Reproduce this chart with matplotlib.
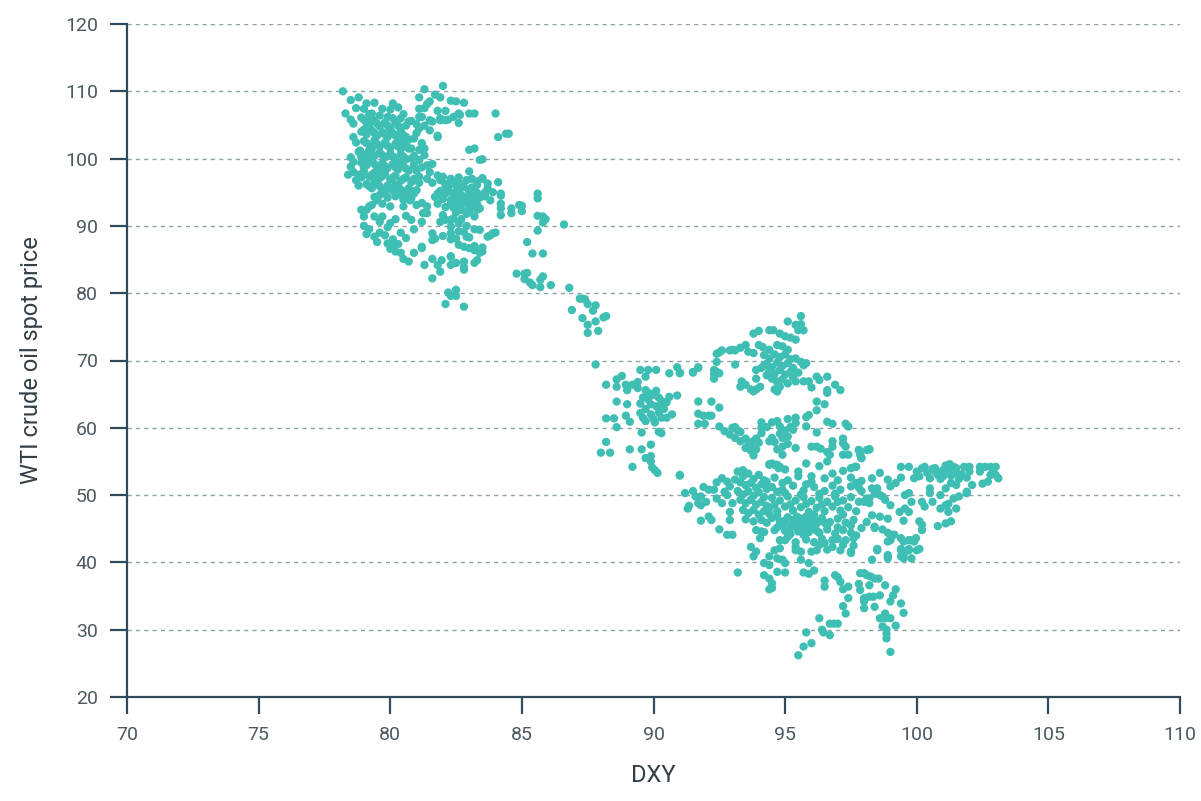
import matplotlib
matplotlib.use("Agg")
import matplotlib.pyplot as plt
import numpy as np

# ---- data (DXY, WTI), grouped by cluster ----
core_2011 = [
(79.0,105.8),(79.2,105.0),(79.4,105.6),(79.6,104.8),(79.8,105.4),(80.0,104.6),(80.2,105.3),(80.4,104.4),(80.6,104.9),
(78.9,104.0),(79.1,103.6),(79.3,104.2),(79.5,103.4),(79.7,103.9),(79.9,103.2),(80.1,103.8),(80.3,103.0),(80.5,103.5),(80.7,102.8),
(79.0,102.6),(79.2,102.0),(79.4,102.7),(79.6,101.8),(79.8,102.4),(80.0,101.6),(80.2,102.2),(80.4,101.4),(80.6,101.9),
(78.8,101.0),(79.0,100.6),(79.2,101.2),(79.4,100.4),(79.6,100.9),(79.8,100.2),(80.0,100.8),(80.2,100.0),(80.4,100.6),(80.6,99.9),
(78.9,99.4),(79.1,99.0),(79.3,99.6),(79.5,98.8),(79.7,99.3),(79.9,98.6),(80.1,99.2),(80.3,98.4),(80.5,98.9),(80.7,98.2),
(78.6,98.0),(78.8,97.6),(79.0,98.1),(79.2,97.3),(79.4,97.9),(79.6,97.1),(79.8,97.7),(80.0,96.9),(80.2,97.5),(80.4,96.7),(80.6,97.2),(80.8,96.5),
(79.1,96.2),(79.3,95.6),(79.5,96.3),(79.7,95.4),(79.9,96.0),(80.1,95.2),(80.3,95.8),(80.5,95.0),(80.7,95.6),(80.9,94.8),
(79.6,94.6),(79.9,94.2),(80.2,94.4),(80.5,93.9),(80.8,94.1),(81.0,95.3),(81.1,96.4),
]
core_2011_extra = [
(79.1,105.3),(79.5,105.2),(79.9,104.9),(80.3,104.9),(80.7,105.5),(79.3,106.0),(80.1,106.0),
(79.0,104.3),(79.4,103.8),(79.8,103.6),(80.2,103.4),(80.6,103.2),(80.0,104.2),(80.4,103.9),
(79.1,102.3),(79.5,102.2),(79.9,101.9),(80.3,101.8),(80.7,101.5),(79.3,101.5),(80.5,102.4),
(78.9,100.2),(79.3,100.8),(79.7,100.5),(80.1,100.3),(80.5,100.3),(80.8,100.0),(79.1,100.0),
(79.0,98.7),(79.4,99.2),(79.8,98.9),(80.2,98.7),(80.6,98.5),(79.6,98.4),(80.4,99.4),
(78.9,97.2),(79.3,97.6),(79.7,97.4),(80.1,97.2),(80.5,97.0),(80.9,97.0),(79.5,97.5),
(79.2,95.9),(79.6,95.9),(80.0,95.6),(80.4,95.4),(80.8,95.2),(79.4,96.6),(80.2,96.1),
(79.8,94.8),(80.3,94.7),(80.7,94.5),
]
fringe_2011 = [
(78.2,110.0),(78.3,106.7),(78.5,108.7),(78.8,109.1),(78.7,107.5),(79.0,107.4),(79.1,108.2),(79.4,108.3),(79.3,106.7),
(79.7,107.4),(79.6,106.4),(80.1,108.2),(80.0,107.3),(80.3,107.6),(80.5,106.6),(80.4,106.0),(80.8,105.6),(78.6,105.2),
(78.5,105.8),(78.9,106.1),(79.2,106.6),(79.9,106.2),
(78.5,100.2),(78.5,98.8),(78.6,99.5),(78.85,101.2),(78.6,103.2),(78.7,102.4),(78.4,97.6),(78.7,96.8),(78.8,96.0),
]
upper_right_2011 = [
(81.3,110.3),(82.0,110.8),(81.1,109.1),(81.4,108.1),(81.7,109.5),(81.9,109.1),(82.3,108.6),(82.5,108.5),(82.8,108.3),
(81.5,108.5),(81.1,107.4),(81.8,107.1),(82.1,107.1),(81.1,106.2),(81.5,105.7),(81.9,105.7),(82.1,105.7),(82.4,106.2),
(82.6,106.7),(83.0,106.7),(82.6,105.3),(82.65,106.5),(81.3,107.5),(81.6,105.5),(81.2,106.2),(81.9,106.0),(82.2,105.8),
(83.2,106.7),(81.8,103.2),(81.8,103.4),(81.1,104.5),(81.0,103.8),(80.9,103.0),(81.1,101.3),(81.3,101.5),(81.2,102.3),
(81.5,104.2),(81.3,104.9),(81.0,105.1),
(84.0,106.7),(84.1,103.2),(84.4,103.7),(84.5,103.7),(83.2,101.5),(83.5,99.9),(83.0,101.3),
]
middle_2011 = [
(80.9,100.4),(81.1,99.8),(81.3,100.5),(80.9,99.0),(81.2,98.7),(81.5,98.0),(81.8,97.5),(81.1,97.3),(81.4,97.0),
(81.6,96.4),(81.9,96.8),(82.1,96.2),(82.4,96.6),(81.0,98.2),(80.8,101.5),(81.6,99.2),(81.4,99.0),
]
lower_right_2012 = [
(82.0,97.3),(82.3,97.0),(82.6,97.2),(82.9,96.8),(83.1,97.0),(82.2,95.9),(82.5,96.0),(82.8,95.8),(83.1,95.7),(83.3,96.1),
(81.9,95.2),(82.1,94.8),(82.4,94.9),(82.7,94.6),(83.0,94.6),(83.3,94.9),(81.7,94.3),(82.0,94.0),(82.3,93.8),(82.6,93.6),
(82.9,93.5),(83.2,93.7),(83.4,94.2),(81.8,93.3),(82.1,92.8),(82.4,92.7),(82.7,92.4),(83.0,92.6),(83.3,92.4),(81.4,92.9),
(81.0,93.1),(80.75,93.8),(81.25,91.9),(81.9,90.6),(82.3,90.9),(82.5,92.4),(83.0,92.1),(83.2,91.4),(82.7,91.0),(82.3,89.9),
(82.6,89.2),(82.0,88.5),(82.3,88.0),(82.6,87.2),(82.8,86.9),(83.0,88.3),(83.2,87.0),(83.4,86.0),(83.5,86.8),(83.8,88.6),
(84.0,89.0),(83.2,89.5),(82.9,90.0),(81.6,88.9),(81.6,87.9),
(82.1,96.1),(82.4,96.3),(83.0,98.1),(83.4,99.8),(83.5,97.1),(83.7,96.3),(83.6,94.4),(82.5,93.9),(81.2,93.4),(81.4,91.9),
(82.0,91.6),(82.1,90.9),(82.4,91.1),(82.6,90.4),(82.8,89.1),(82.5,88.1),(82.9,88.4),(81.7,88.1),(82.3,88.9),(83.4,89.4),
(83.7,88.4),(83.9,88.9),(83.0,86.7),(83.2,86.4),(83.5,86.2),(83.3,84.9),(82.3,85.4),(81.95,84.9),(82.8,83.9),(81.2,86.9),
(82.2,95.4),(82.6,95.2),(83.0,95.2),(82.4,94.3),(82.8,94.1),(83.1,94.2),(82.3,93.3),(82.7,93.1),(83.1,93.0),(82.5,92.0),
(82.9,91.8),(83.3,96.6),(82.6,96.5),(81.8,94.8),(83.3,93.2),
]
east_2012 = [
(83.5,97.0),(84.1,96.5),(83.7,95.6),(84.2,94.5),(83.6,95.0),(84.2,93.3),(83.4,92.6),(84.2,91.6),(84.2,94.8),(84.2,92.6),
(84.6,92.6),(84.6,91.9),(85.0,93.0),(84.9,93.1),(85.0,92.2),(85.6,94.8),(85.6,94.1),(85.6,91.5),(85.8,91.4),(85.9,91.0),
(85.8,90.5),(85.6,89.3),(86.6,90.2),(85.2,87.6),(85.4,85.9),(85.8,85.9),(83.9,95.0),(83.8,93.8),
]
lower_left_2011 = [
(78.9,92.4),(79.1,92.4),(79.2,92.9),(79.3,93.1),(79.5,93.8),(79.7,93.3),(79.4,94.3),(79.4,91.4),(79.6,90.6),(79.7,91.4),
(80.0,92.9),(80.5,92.9),(80.8,90.9),(81.2,90.6),(79.0,90.0),(79.2,89.5),(79.1,88.8),(79.4,88.4),(79.6,89.0),(79.8,88.6),
(79.9,89.8),(80.1,88.0),(79.5,87.6),(79.9,87.4),(80.0,86.6),(80.2,86.2),(80.4,86.0),(80.1,87.0),(80.3,87.3),(80.5,85.1),
(80.7,84.7),(80.9,86.0),(81.2,86.7),(80.6,88.2),(80.4,89.0),(80.9,89.5),(79.0,91.4),(80.2,91.0),(80.6,91.5),(80.0,90.4),
(81.3,84.2),(81.6,85.1),(81.8,84.2),(81.9,83.2),(82.3,84.2),(82.5,84.5),(82.8,84.7),(82.8,83.5),(83.2,84.5),(82.3,85.5),
(81.6,82.2),(82.2,80.1),(82.3,79.6),(82.5,79.6),(82.5,80.5),(82.1,78.4),(82.8,78.0),
]
transition_2014 = [
(84.8,82.9),(85.1,82.9),(85.2,83.0),(85.1,82.1),(85.3,81.6),(85.4,81.2),(85.7,80.9),(85.8,82.5),(85.7,82.0),(86.1,81.2),
(86.8,80.8),(87.3,79.2),(87.4,79.1),(87.5,78.4),(87.8,78.2),(87.7,77.4),(86.9,77.5),(87.3,76.3),(87.5,75.3),(87.5,74.1),
(87.8,75.8),(87.9,74.4),(88.1,76.4),(88.2,76.6),(87.2,79.2),(87.8,69.4),
]
cluster_2015a = [
(88.2,66.4),(88.6,67.2),(88.6,66.1),(88.8,67.7),(88.95,66.4),(89.0,65.6),(89.2,66.4),(89.4,66.8),(89.4,65.9),(89.5,68.6),
(89.8,68.6),(89.7,67.6),(89.7,65.6),(90.1,68.6),(90.6,68.1),(90.9,69.0),(91.0,68.1),(91.5,68.3),(91.7,69.0),
(88.6,63.9),(89.0,63.5),(88.2,61.4),(88.5,61.4),(88.6,60.1),(88.95,61.8),(89.1,60.9),
(89.6,64.5),(89.8,64.2),(90.0,64.9),(90.2,64.5),(89.9,63.5),(90.1,63.2),(90.3,63.0),(89.7,62.8),(89.5,62.2),(89.9,62.0),
(90.2,62.3),(90.4,62.8),(89.6,61.5),(90.0,61.3),(90.3,61.5),(89.7,61.0),(90.05,60.8),(90.5,63.8),(90.7,62.0),(90.5,61.5),
(89.8,65.2),(90.1,65.5),(90.3,64.0),(89.5,63.6),(90.6,64.6),
(89.55,59.3),(90.2,59.4),(90.3,59.2),(90.9,64.8),(89.9,57.5),(88.2,57.9),(88.0,56.3),(88.35,56.3),(89.1,56.8),(89.55,56.8),
(89.7,55.5),(89.9,55.8),(89.9,55.0),(89.95,54.1),(90.05,53.7),(90.15,53.3),(89.2,54.2),(91.0,52.9),
]
cluster_2015b = [
(91.7,63.9),(92.2,63.9),(92.5,63.0),(91.7,62.1),(91.9,61.8),(92.1,61.8),(92.2,61.8),(91.7,60.6),(91.95,60.6),(92.5,60.2),
(92.3,68.6),(92.5,68.1),(92.3,67.3),(92.4,69.8),(92.5,71.2),(92.6,71.5),(92.9,71.5),(93.1,71.5),(93.3,71.9),(93.5,72.3),
(93.1,69.4),(92.4,71.0),(93.0,71.6),(93.6,71.3),(93.8,71.1),(94.0,72.3),(94.15,72.0),(94.4,71.6),(94.7,72.3),(94.9,72.1),
(95.1,71.6),(95.6,76.6),(95.1,75.8),(95.4,75.3),(95.6,75.4),(95.5,74.5),(95.7,74.5),(93.8,74.0),(94.0,74.4),(94.4,74.5),
(94.55,74.5),(94.8,74.0),(95.0,73.6),(95.2,73.4),(95.4,73.1),
(94.2,70.8),(94.4,70.3),(94.6,70.9),(94.8,70.5),(95.0,70.9),(95.2,70.2),(94.3,69.5),(94.5,69.0),(94.7,69.7),(94.9,69.2),
(95.1,69.6),(95.3,68.9),(94.4,68.4),(94.6,68.0),(94.8,68.6),(95.0,67.9),(95.2,68.3),(94.5,67.3),(94.7,66.8),(94.9,67.2),
(95.1,66.6),(94.3,67.8),(94.1,68.9),(95.3,67.5),
(95.4,70.3),(95.6,69.8),(95.7,69.3),(95.8,69.6),(95.5,68.2),(95.4,66.9),(95.7,66.9),(95.9,66.9),(96.0,66.0),(96.2,67.6),
(96.3,67.1),(96.6,67.6),(96.6,65.6),(96.6,65.2),(96.9,66.4),(97.1,65.6),
(93.35,66.9),(93.5,66.4),(93.3,66.1),(93.7,65.7),(93.8,65.4),(93.9,65.7),(94.05,66.1),(93.9,67.3),(93.9,68.6),(94.2,69.3),
(94.6,65.7),(94.7,65.4),(94.8,66.1),(94.7,66.9),(92.3,68.0),(92.4,68.3),(91.0,68.2),(91.5,68.2),(91.7,68.9),
(96.2,63.9),(96.2,62.6),(96.5,63.5),
]
band_2016 = [
(92.7,59.5),(92.9,59.0),(93.0,60.0),(93.1,60.1),(93.2,59.6),(93.3,59.4),(93.1,58.5),(93.3,58.0),(93.5,58.4),(93.6,57.9),
(93.7,57.5),(93.8,58.0),(93.9,58.4),(93.5,57.0),(93.7,56.6),(93.9,56.8),(93.8,55.9),(94.0,57.8),(94.1,60.8),(94.1,60.0),
(94.1,59.2),(94.3,60.1),(94.4,58.0),(94.5,58.5),(94.5,60.8),(94.7,61.0),(94.8,60.2),(94.8,59.1),(94.9,58.5),(95.0,59.6),
(95.1,61.3),(95.2,60.1),(95.3,59.7),(95.1,58.7),(95.4,61.5),(95.4,60.7),(94.6,57.9),(94.7,56.8),(94.9,57.2),(95.1,57.6),
(95.4,57.0),(95.8,61.6),(95.9,61.9),(95.8,60.2),(96.2,59.3),(96.6,60.9),(96.8,60.6),(97.3,60.6),(97.4,60.2),
(96.0,57.2),(96.2,57.2),(96.35,56.9),(96.8,58.0),(96.8,57.2),(96.6,56.4),(96.7,56.0),(97.2,58.4),(97.2,57.7),(97.3,57.2),
(97.2,56.0),(97.4,56.0),(97.8,56.7),(97.85,56.0),(97.9,55.5),(98.1,56.7),(97.7,54.2),(96.6,55.0),(94.9,56.0),
(94.4,54.5),(94.5,54.7),(94.7,54.5),(94.75,54.0),(98.2,56.8),(97.65,54.2),(98.6,53.3),
]
west_2016 = [
(91.0,53.0),(91.3,48.0),(91.35,48.4),(91.6,49.8),(91.8,49.8),(91.7,48.8),(91.8,48.5),(91.8,46.2),(92.1,46.8),(92.2,46.3),
(92.1,50.8),(92.3,50.8),(92.4,49.5),(92.6,52.5),(92.7,50.5),(92.6,48.8),(92.8,52.0),(92.9,51.3),(92.8,50.0),(93.0,48.8),
(92.9,47.5),(92.9,46.3),(92.5,44.9),(92.8,44.1),(93.0,44.1),(93.2,38.5),(91.9,51.2),(92.0,49.0),(92.4,51.9),(91.2,50.3),
(91.5,50.6),
(93.2,53.5),(93.4,52.8),(93.6,53.2),(93.8,52.4),(94.0,53.0),(94.2,52.2),(93.3,51.9),(93.5,51.5),(93.7,51.8),(93.9,51.1),
(94.1,51.6),(94.3,50.9),(93.2,50.6),(93.4,50.1),(93.6,50.6),(93.8,49.9),(94.0,50.4),(94.2,49.7),(93.3,49.3),(93.5,48.8),
(93.7,49.3),(93.9,48.6),(94.1,49.0),(94.3,48.4),(93.4,47.8),(93.6,47.3),(93.8,47.8),(94.0,47.1),(94.2,47.6),(93.5,46.4),
(93.8,46.1),(94.1,46.3),(94.3,45.9),(93.4,53.7),(93.1,52.3),(94.4,54.6),(94.6,54.5),(94.8,54.2),
]
core_2016 = [
(95.0,53.8),(95.5,53.5),(96.3,54.3),(96.8,53.2),(97.2,53.6),(96.0,52.8),(95.8,54.7),(97.5,54.0),
(94.6,52.6),(95.1,52.2),(95.5,52.8),(96.0,52.0),(96.5,52.5),(97.0,52.2),(97.5,52.6),(97.9,52.1),(98.3,52.5),(94.3,52.0),
(94.5,51.2),(94.9,50.8),(95.3,51.4),(95.7,50.7),(96.1,51.2),(96.5,50.6),(96.8,51.4),(97.1,50.8),(97.5,51.3),(97.9,50.6),(98.3,51.0),
(94.5,49.6),(94.8,49.2),(95.1,49.8),(95.4,49.2),(95.7,49.7),(96.0,49.1),(96.3,49.6),(96.6,49.0),(96.9,49.8),(97.2,49.2),
(97.5,49.7),(97.8,49.0),(98.1,49.5),(98.4,50.2),
(94.4,48.1),(94.7,47.6),(95.0,48.3),(95.3,47.7),(95.6,48.2),(95.9,47.5),(96.2,48.1),(96.5,47.6),(96.8,48.3),(97.1,47.7),
(97.4,48.2),(97.7,47.6),
(94.5,46.6),(94.8,46.1),(95.1,46.7),(95.4,46.0),(95.6,46.5),(95.8,45.9),(96.0,46.4),(96.2,45.8),(96.4,46.6),(96.7,46.0),
(97.0,46.5),(97.3,45.9),(97.6,46.3),
(94.7,45.2),(95.0,44.7),(95.3,45.3),(95.5,44.6),(95.7,45.2),(95.9,44.5),(96.1,45.0),(96.3,44.4),(96.6,44.9),(96.9,44.3),
(97.2,44.8),(97.5,44.4),(95.0,43.3),(95.4,43.0),(95.8,43.4),(96.1,43.0),(96.4,43.5),(97.0,43.5),
(95.3,46.3),(95.7,46.1),(96.1,46.0),(95.5,45.7),(95.9,45.6),
]
core_2016_extra = [
(94.7,46.9),(95.0,46.2),(95.2,45.4),(95.45,46.8),(95.8,46.8),(96.1,47.1),(96.3,46.2),(96.6,45.5),(94.9,45.6),(95.2,44.2),
(95.7,44.1),(96.2,44.7),(96.5,45.9),(94.6,48.6),(95.2,48.6),(95.8,48.7),(96.4,48.6),(97.0,49.0),(95.0,50.3),(95.6,50.1),
(96.3,50.2),(96.9,50.2),(94.7,50.5),(97.2,47.1),(97.0,45.2),(94.4,47.2),(94.2,44.5),(94.9,51.8),(95.8,51.6),
]
south_2016 = [
(93.7,42.3),(93.8,40.9),(93.9,41.6),(94.05,43.6),(94.2,39.9),(94.4,39.6),(94.4,40.9),(94.7,40.6),(94.7,38.6),(95.0,39.9),
(95.0,38.5),(94.9,40.4),(94.6,41.8),(94.8,42.1),(94.2,38.1),(94.4,37.6),(94.5,36.9),(94.4,36.0),(94.5,36.2),(93.9,44.8),
(94.1,44.6),(94.6,44.8),(94.8,43.3),(95.1,43.8),(95.4,42.3),(95.6,41.6),(95.4,41.8),(95.6,40.4),(95.9,39.9),(96.0,41.6),
(96.2,41.8),(96.3,42.6),(96.6,41.9),(96.5,42.9),(95.7,38.5),(95.9,38.3),(96.1,38.8),
(96.5,37.3),(96.5,36.4),(96.9,38.1),(97.0,37.8),(97.1,37.1),(97.2,36.0),(97.4,36.4),(97.4,34.7),(97.2,33.5),(97.3,32.4),
(96.3,31.7),(96.7,30.9),(96.85,30.9),(97.0,30.9),(96.4,30.0),(96.45,29.6),(96.7,29.2),(95.8,29.6),(96.0,28.0),(95.7,27.5),
(95.5,26.2),
(97.8,36.8),(97.85,38.4),(98.0,38.4),(98.1,38.1),(98.25,37.9),(98.4,37.6),(98.55,37.6),(98.2,36.6),(98.2,34.9),(98.35,34.9),
(98.0,34.7),(98.0,33.2),(97.85,35.9),(98.0,34.2),(98.4,33.4),(98.8,36.6),(98.6,35.1),(98.8,32.4),(99.0,34.2),(99.1,35.1),
(99.2,36.0),(99.4,33.9),(99.5,32.5),(98.6,31.7),(98.8,31.7),(99.0,31.7),(98.7,30.5),(98.85,30.0),(98.85,28.7),(99.2,30.6),
(99.0,26.7),(98.85,29.4),
(97.6,43.6),(97.5,41.6),(97.3,43.3),(97.1,41.8),(97.2,42.6),(96.8,43.3),(96.8,42.3),
(98.3,40.4),(98.5,41.8),(98.4,45.3),(98.9,40.9),(98.9,43.1),(99.0,44.1),(99.15,44.1),(99.4,41.8),(99.4,40.9),(99.7,41.8),
(99.9,43.1),(99.75,43.3),(100.0,41.8),
]
east_2017 = [
(97.9,45.1),(98.1,46.0),(98.3,47.0),(98.6,46.8),(98.4,45.1),(98.7,44.9),(98.9,46.5),(98.9,44.4),(99.1,44.1),(99.0,43.3),
(99.4,43.6),(99.5,43.1),(99.7,43.3),(99.97,43.6),(98.5,42.0),(98.9,41.1),(98.9,40.6),(99.4,42.0),(99.5,41.1),(99.5,40.6),
(99.7,42.0),(99.8,40.6),(100.1,42.0),(97.5,41.4),(97.6,42.5),(97.7,44.0),(97.5,45.5),
(97.8,56.7),(98.2,56.8),(97.9,55.5),
(99.4,54.2),(99.7,54.2),(100.0,53.5),(100.1,52.8),(100.3,54.2),(100.4,53.3),(100.5,52.5),(100.6,53.9),(100.7,54.0),(100.8,53.0),
(100.9,52.4),(101.0,53.7),(101.1,54.4),(101.2,53.5),(101.3,52.9),(101.4,54.2),(101.5,53.3),(101.6,52.4),(101.5,54.0),(101.8,54.2),
(101.7,53.1),(101.9,52.6),(102.0,54.2),(102.0,53.5),(102.4,54.2),(102.4,53.5),(102.6,54.2),(102.8,54.2),(102.8,53.0),(102.9,53.3),
(103.0,53.0),(103.1,52.5),(103.0,54.2),(102.7,52.0),(102.5,51.7),(102.1,51.5),(101.9,50.5),(101.5,51.5),(101.3,51.8),(101.1,51.0),
(100.5,51.0),(100.9,50.0),(100.5,50.3),(101.25,54.6),(100.2,54.0),(99.9,52.5),(100.7,53.5),(101.0,52.8),
(97.7,51.8),(97.8,51.1),(98.0,49.0),(98.2,49.5),(98.5,51.0),(98.6,50.0),(98.7,49.8),(98.8,49.3),(99.0,51.3),(99.0,48.5),
(99.55,50.0),(99.7,50.3),(99.8,49.0),(99.55,48.0),(99.35,47.5),(99.7,47.5),(99.5,46.2),(100.2,49.0),(100.3,48.3),(100.6,49.0),
(100.9,48.0),(101.1,48.5),(101.2,48.7),(101.2,47.5),(101.3,46.1),(101.5,48.0),(101.1,45.8),(100.8,45.4),(101.4,49.5),(101.6,49.8),
(101.9,50.3),(100.1,46.1),(100.2,45.6),(100.2,44.8),(98.2,48.8),(99.2,51.8),(99.4,52.6),(98.9,52.3),
]

clusters = [core_2011, core_2011_extra, fringe_2011, upper_right_2011, middle_2011, lower_right_2012,
            east_2012, lower_left_2011, transition_2014, cluster_2015a, cluster_2015b, band_2016,
            west_2016, core_2016, core_2016_extra, south_2016, east_2017]
dxy = [p[0] for c in clusters for p in c]
wti = [p[1] for c in clusters for p in c]

x_ticks = [70, 75, 80, 85, 90, 95, 100, 105, 110]
y_ticks = [20, 30, 40, 50, 60, 70, 80, 90, 100, 110, 120]

# ---- style ----
plt.rcParams['font.family'] = ['Roboto', 'DejaVu Sans']
axis_col = '#2e4a5b'
tick_text_col = '#4c5a60'
label_col = '#323f46'
dot_col = '#3fbfb4'

fig = plt.figure(figsize=(12.01, 8.01), dpi=100)
ax = fig.add_axes([127/1201, 104/801, (1180-127)/1201, (697-24)/801])

ax.scatter(dxy, wti, s=36, color=dot_col, edgecolors='none', zorder=3)

ax.set_xlim(70, 110)
ax.set_ylim(20, 120)
ax.set_xticks(x_ticks)
ax.set_yticks(y_ticks)

for yv in y_ticks[1:]:
    ax.axhline(yv, color='#8fa0a8', lw=1.0, ls=(0, (3, 3)), zorder=1)

for s in ['top', 'right']:
    ax.spines[s].set_visible(False)
for s in ['left', 'bottom']:
    ax.spines[s].set_color(axis_col)
    ax.spines[s].set_linewidth(1.6)

ax.tick_params(axis='both', which='major', length=12, width=1.6, color=axis_col,
               labelsize=14, labelcolor=tick_text_col, direction='out')
ax.tick_params(axis='y', pad=9)
ax.tick_params(axis='x', pad=9)

ax.set_xlabel('DXY', fontsize=17, color=label_col, labelpad=14)
ax.set_ylabel('WTI crude oil spot price', fontsize=17, color=label_col, labelpad=16)

fig.savefig('out.png', dpi=100)
